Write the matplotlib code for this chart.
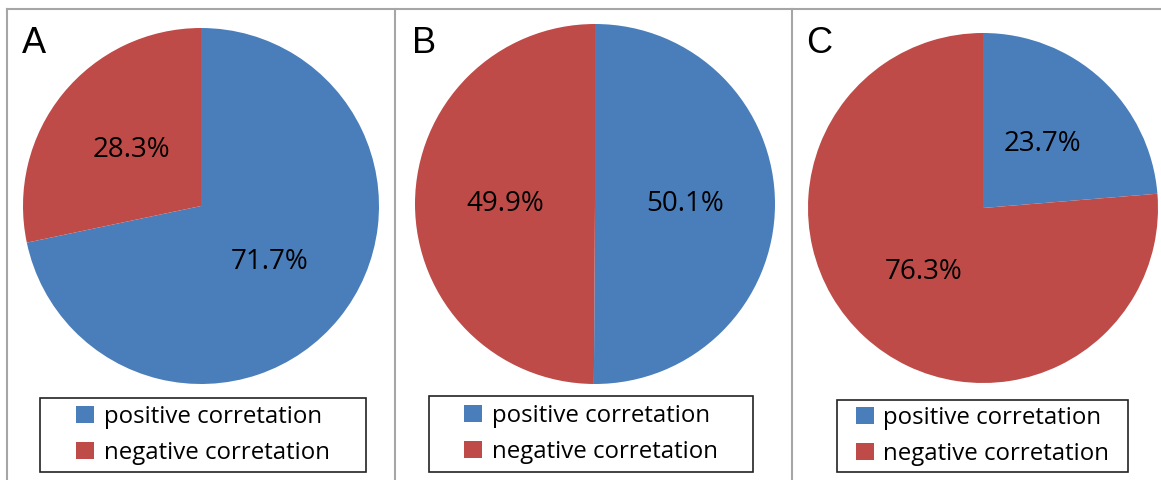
import matplotlib.pyplot as plt
from matplotlib.patches import Rectangle, Patch
from matplotlib.lines import Line2D

# data
panels = ['A', 'B', 'C']
labels = ['positive corretation', 'negative corretation']
positive = [71.7, 50.1, 23.7]
negative = [28.3, 49.9, 76.3]
colors = ['#4a7ebb', '#be4b48']

W, H = 1161, 480
fig = plt.figure(figsize=(W / 100, H / 100), dpi=100)
fig.patch.set_facecolor('white')

def fx(x):
    return x / W

def fy(y):
    return 1 - y / H

# panel frames (pixel coords)
edges = [7, 395, 792, 1161]
top = 9
for x in edges[:3]:
    fig.add_artist(Line2D([fx(x), fx(x)], [fy(top), 0], color='#a6a6a6', lw=1.5))
fig.add_artist(Line2D([fx(edges[0]), fx(W)], [fy(top), fy(top)], color='#a6a6a6', lw=1.5))

# pie centres and radii, legend boxes (pixels)
centres = [(201, 206, 178), (595, 204, 180), (983, 208, 175)]
boxes = [(40, 398, 366, 472), (429, 396, 753, 472), (837, 400, 1128, 472)]
letter_x = [22, 412, 806]

for i, name in enumerate(panels):
    cx, cy, r = centres[i]
    ax = fig.add_axes([fx(cx - r), fy(cy + r), 2 * r / W, 2 * r / H])
    ax.pie([positive[i], negative[i]], colors=colors, startangle=90,
           counterclock=False, autopct='%.1f%%', pctdistance=0.5,
           textprops=dict(fontsize=20, family='Open Sans', color='black'),
           wedgeprops=dict(linewidth=0))
    ax.set_xlim(-1, 1)
    ax.set_ylim(-1, 1)
    ax.set_aspect('equal')

    fig.text(fx(letter_x[i]), fy(26), name, fontsize=26, family='Liberation Sans',
             ha='left', va='top')

    x0, y0, x1, y1 = boxes[i]
    fig.add_artist(Rectangle((fx(x0), fy(y1)), fx(x1 - x0), (y1 - y0) / H,
                             fill=False, edgecolor='#222222', lw=1.2))
    handles = [Patch(facecolor=c, edgecolor='none') for c in colors]
    fig.legend(handles, labels, loc='center', frameon=False,
               bbox_to_anchor=(fx((x0 + x1) / 2), fy((y0 + y1) / 2)),
               prop=dict(family='Open Sans', size=17.3),
               handlelength=0.75, handleheight=0.75, handletextpad=0.4,
               labelspacing=0.5, borderpad=0)

fig.savefig('out.png', dpi=100)
